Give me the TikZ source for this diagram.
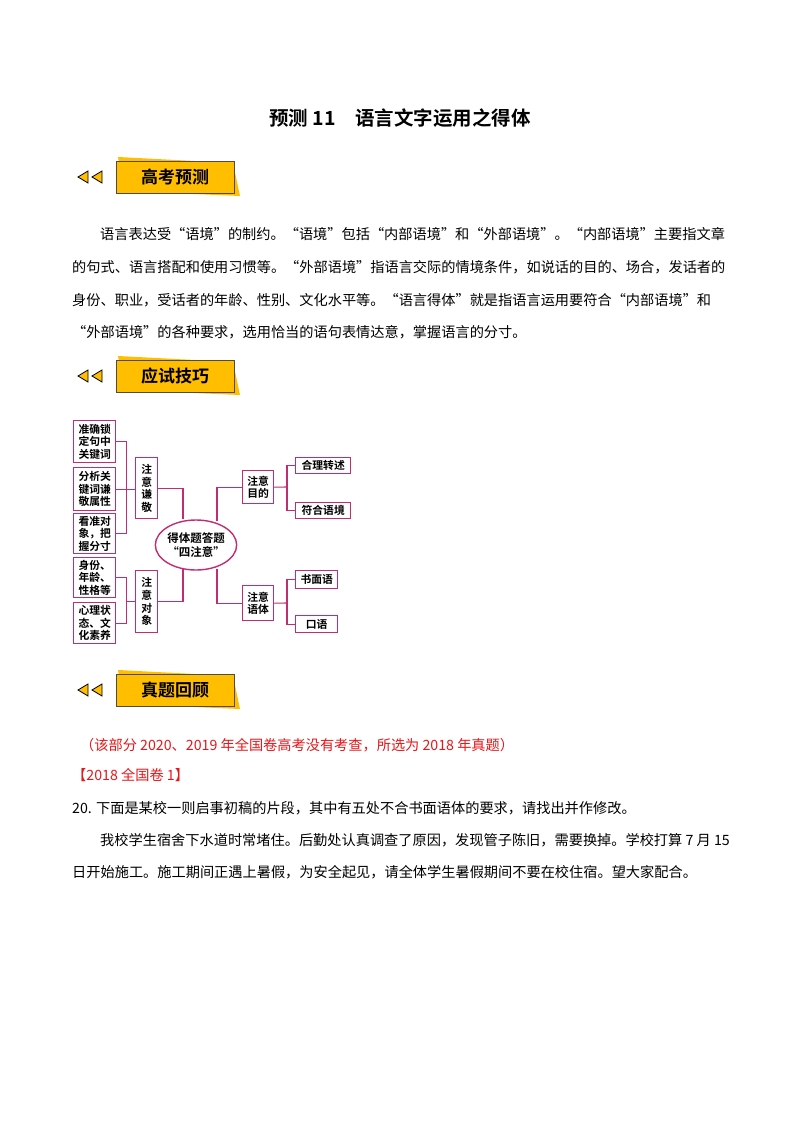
\documentclass[tikz,border=0pt]{standalone}
\usepackage{fontspec}
\setmainfont{Liberation Serif}
\newfontfamily\cjk{Noto Sans CJK SC}
\newfontfamily\cjkb{Noto Sans CJK SC Bold}
\usetikzlibrary{shapes.geometric}
\definecolor{mag}{HTML}{C02D72}
\definecolor{ban}{HTML}{FFBE00}
\definecolor{redt}{HTML}{E8161A}
\tikzset{
 bx/.style={draw=mag,line width=1.4pt,fill=white,inner sep=0.5pt,align=center,font=\cjkb\fontsize{10.8}{12.6}\selectfont,anchor=north west},
 ln/.style={draw=mag,line width=1.1pt},
 tx/.style={anchor=west,inner sep=0pt,font=\cjk\fontsize{14.2}{16}\selectfont},
}
\newcommand\banner[2]{%
 \filldraw[fill=ban,draw=black,line width=0.8pt] (78,#1) -- (88,#1-6) -- (88,#1+6) -- cycle;
 \filldraw[fill=ban,draw=black,line width=0.8pt] (92,#1) -- (102,#1-6) -- (102,#1+6) -- cycle;
 \fill[ban] (118,#1-20) -- (233,#1-14) -- (240,#1+19) -- (124,#1+14) -- cycle;
 \node[draw=black!70,line width=0.8pt,fill=ban,minimum width=118,minimum height=32,inner sep=0pt,font=\cjkb\fontsize{17}{20}\selectfont] (b#1) at (175,#1) {#2};}
\begin{document}
\begin{tikzpicture}[x=1pt,y=-1pt]
\useasboundingbox[fill=white] (0,0) rectangle (800,1132);
\node[font=\cjkb\fontsize{19.5}{22}\selectfont] (title) at (400,118) {预测 11\quad 语言文字运用之得体};
\banner{177}{高考预测}
\banner{376}{应试技巧}
\banner{690}{真题回顾}
\node[tx] (p1) at (100,234) {语言表达受“语境”的制约。“语境”包括“内部语境”和“外部语境”。“内部语境”主要指文章};
\node[tx] (p2) at (72,267) {的句式、语言搭配和使用习惯等。“外部语境”指语言交际的情境条件，如说话的目的、场合，发话者的};
\node[tx] (p3) at (72,300) {身份、职业，受话者的年龄、性别、文化水平等。“语言得体”就是指语言运用要符合“内部语境”和};
\node[tx] (p4) at (72,332) {“外部语境”的各种要求，选用恰当的语句表情达意，掌握语言的分寸。};
% mind map
\node[ellipse,draw=mag,line width=1.4pt,minimum width=72,minimum height=50,inner sep=0pt,align=center,font=\cjkb\fontsize{11.5}{13.5}\selectfont] (c) at (196,545) {得体题答题\\“四注意”};
\node[bx,minimum width=42,minimum height=42] (l1) at (73,420) {准确锁\\定句中\\关键词};
\node[bx,minimum width=42,minimum height=43] (l2) at (73,467) {分析关\\键词谦\\敬属性};
\node[bx,minimum width=42,minimum height=40] (l3) at (73,513) {看准对\\象，把\\握分寸};
\node[bx,minimum width=42,minimum height=40] (l4) at (73,557) {身份、\\年龄、\\性格等};
\node[bx,minimum width=42,minimum height=41] (l5) at (73,602) {心理状\\态、文\\化素养};
\node[bx,minimum width=22,minimum height=61] (q) at (135,457) {注\\意\\谦\\敬};
\node[bx,minimum width=22,minimum height=62] (d) at (135,570) {注\\意\\对\\象};
\node[bx,minimum width=31,minimum height=33] (m) at (242,470) {注意\\目的};
\node[bx,minimum width=31,minimum height=35] (y) at (242,585) {注意\\语体};
\node[bx,minimum width=55,minimum height=16] (r1) at (295,457) {合理转述};
\node[bx,minimum width=55,minimum height=16] (r2) at (295,502) {符合语境};
\node[bx,minimum width=42,minimum height=18] (r3) at (295,570) {书面语};
\node[bx,minimum width=42,minimum height=17] (r4) at (295,615) {口语};
\draw[ln] (l1.east) -| ([xshift=10]l3.east) -- (l3.east);
\draw[ln] (l2.east) -- (q.west|-l2.east);
\draw[ln] (l4.east) -| ([xshift=10]l5.east) -- (l5.east);
\draw[ln] ([xshift=10]l4.east|-d.west) -- (d.west);
\draw[ln] (q.east) -| (183,519);
\draw[ln] (d.east) -| (183,568);
\draw[ln] (m.west) -| (217,521);
\draw[ln] (y.west) -| (217,569);
\draw[ln] (r1.west) -| (287,510) |- (r2.west);
\draw[ln] (287,487) -- (m.east);
\draw[ln] (r3.west) -| (287,615) |- (r4.west);
\draw[ln] (287,603) -- (y.east);
% lower text
\node[tx,text=redt] (red) at (80,745) {（该部分 2020、2019 年全国卷高考没有考查，所选为 2018 年真题）};
\node[tx,text=redt] (juan) at (72,775) {【2018 全国卷 1】};
\node[tx] (q20) at (72,808) {20. 下面是某校一则启事初稿的片段，其中有五处不合书面语体的要求，请找出并作修改。};
\node[tx] (s1) at (100,840) {我校学生宿舍下水道时常堵住。后勤处认真调查了原因，发现管子陈旧，需要换掉。学校打算 7 月 15};
\node[tx] (s2) at (72,872) {日开始施工。施工期间正遇上暑假，为安全起见，请全体学生暑假期间不要在校住宿。望大家配合。};
\end{tikzpicture}
\end{document}
